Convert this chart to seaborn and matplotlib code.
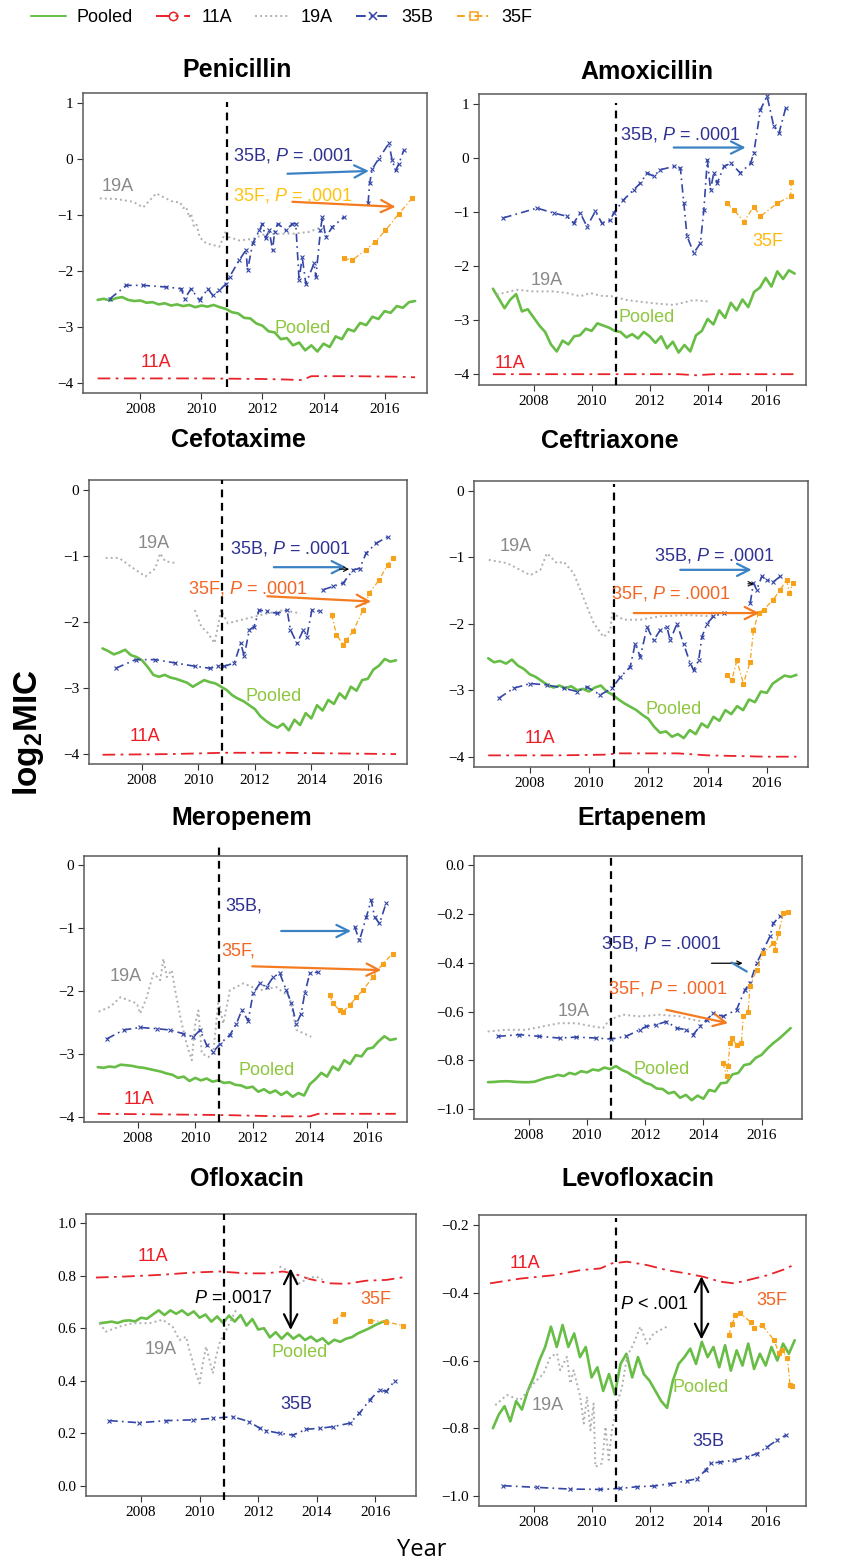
import numpy as np
import pandas as pd
import seaborn as sns
import matplotlib.pyplot as plt
from matplotlib.lines import Line2D

# ---------------------------------------------------------------- data
INTERVENTION_YEAR = 2010.83
SEROTYPES = ["Pooled", "11A", "19A", "35B", "35F"]
DRUGS = ["Penicillin", "Amoxicillin", "Cefotaxime", "Ceftriaxone",
         "Meropenem", "Ertapenem", "Ofloxacin", "Levofloxacin"]
YEAR_TICKS = [2008, 2010, 2012, 2014, 2016]

# pooled series share one time grid
POOLED_YEARS = np.round(np.arange(2006.6, 2017.01, 0.2), 1)

PEN_POOLED = [-2.52, -2.50, -2.53, -2.49, -2.47, -2.52, -2.54, -2.53, -2.57, -2.56, -2.60,
              -2.58, -2.62, -2.60, -2.63, -2.61, -2.65, -2.62, -2.64, -2.61, -2.65, -2.68,
              -2.74, -2.76, -2.84, -2.85, -2.94, -2.98, -3.08, -3.10, -3.22, -3.20, -3.33,
              -3.28, -3.42, -3.33, -3.44, -3.30, -3.36, -3.17, -3.22, -3.04, -3.08, -2.93,
              -2.97, -2.82, -2.86, -2.72, -2.75, -2.63, -2.66, -2.56, -2.54]
AMX_POOLED = [-2.42, -2.60, -2.78, -2.62, -2.52, -2.84, -2.80, -2.95, -3.10, -3.22, -3.45,
              -3.58, -3.38, -3.45, -3.30, -3.28, -3.16, -3.20, -3.06, -3.10, -3.14, -3.20,
              -3.22, -3.32, -3.26, -3.34, -3.22, -3.30, -3.42, -3.30, -3.52, -3.40, -3.60,
              -3.46, -3.58, -3.28, -3.20, -2.98, -3.08, -2.82, -2.96, -2.68, -2.82, -2.62,
              -2.76, -2.48, -2.40, -2.22, -2.38, -2.10, -2.24, -2.08, -2.14]
CTX_POOLED = [-2.40, -2.44, -2.49, -2.46, -2.42, -2.50, -2.53, -2.58, -2.68, -2.80, -2.83,
              -2.80, -2.84, -2.86, -2.89, -2.92, -2.98, -2.93, -2.88, -2.91, -2.93, -2.98,
              -3.03, -3.11, -3.16, -3.20, -3.26, -3.32, -3.43, -3.50, -3.56, -3.60, -3.54,
              -3.64, -3.48, -3.56, -3.38, -3.46, -3.26, -3.34, -3.18, -3.24, -3.08, -3.16,
              -2.98, -3.04, -2.88, -2.86, -2.72, -2.66, -2.56, -2.60, -2.58]
CRO_POOLED = [-2.52, -2.58, -2.56, -2.60, -2.54, -2.63, -2.68, -2.76, -2.80, -2.86, -2.92,
              -2.96, -2.93, -2.97, -2.94, -3.00, -2.98, -3.02, -2.96, -2.93, -3.02, -3.07,
              -3.14, -3.20, -3.25, -3.30, -3.37, -3.43, -3.55, -3.64, -3.62, -3.70, -3.66,
              -3.72, -3.60, -3.66, -3.50, -3.56, -3.40, -3.46, -3.30, -3.36, -3.24, -3.30,
              -3.14, -3.18, -3.02, -3.04, -2.90, -2.84, -2.78, -2.80, -2.77]
MEM_POOLED = [-3.21, -3.22, -3.20, -3.21, -3.17, -3.18, -3.19, -3.21, -3.22, -3.24, -3.26,
              -3.28, -3.31, -3.33, -3.38, -3.36, -3.43, -3.38, -3.42, -3.39, -3.44, -3.42,
              -3.46, -3.45, -3.49, -3.50, -3.54, -3.52, -3.60, -3.56, -3.62, -3.58, -3.65,
              -3.60, -3.68, -3.62, -3.66, -3.48, -3.40, -3.30, -3.36, -3.20, -3.26, -3.10,
              -3.16, -3.02, -3.04, -2.92, -2.90, -2.80, -2.72, -2.78, -2.76]
ETP_POOLED = [-0.890, -0.889, -0.887, -0.886, -0.887, -0.889, -0.890, -0.890, -0.888, -0.880,
              -0.872, -0.868, -0.860, -0.865, -0.852, -0.858, -0.845, -0.850, -0.838, -0.842,
              -0.830, -0.836, -0.824, -0.840, -0.850, -0.866, -0.876, -0.892, -0.900, -0.916,
              -0.918, -0.936, -0.930, -0.954, -0.942, -0.964, -0.945, -0.958, -0.922, -0.928,
              -0.894, -0.892, -0.858, -0.852, -0.820, -0.815, -0.790, -0.778, -0.752, -0.730,
              -0.712, -0.690, -0.668]
OFX_POOLED = [0.619, 0.622, 0.625, 0.620, 0.628, 0.630, 0.626, 0.640, 0.636, 0.652, 0.668,
              0.650, 0.668, 0.655, 0.668, 0.650, 0.664, 0.640, 0.652, 0.625, 0.645, 0.620,
              0.648, 0.625, 0.650, 0.610, 0.635, 0.595, 0.600, 0.565, 0.585, 0.560, 0.582,
              0.560, 0.575, 0.555, 0.568, 0.550, 0.562, 0.540, 0.556, 0.548, 0.560, 0.566,
              0.580, 0.590, 0.600, 0.612, 0.622, 0.630, None, None, None]
LVX_POOLED = [-0.800, -0.760, -0.735, -0.780, -0.720, -0.745, -0.690, -0.650, -0.600, -0.560,
              -0.500, -0.560, -0.495, -0.560, -0.520, -0.590, -0.560, -0.650, -0.620, -0.690,
              -0.640, -0.700, -0.610, -0.580, -0.650, -0.590, -0.640, -0.660, -0.690, -0.720,
              -0.740, -0.660, -0.610, -0.590, -0.565, -0.610, -0.545, -0.590, -0.560, -0.620,
              -0.555, -0.630, -0.570, -0.615, -0.550, -0.625, -0.580, -0.615, -0.560, -0.600,
              -0.550, -0.580, -0.540]

# serotype 11A
PEN_11A_YR = [2006.6, 2008.0, 2010.0, 2012.0, 2012.8, 2013.3, 2013.6, 2015.0, 2016.5, 2017.0]
PEN_11A = [-3.92, -3.92, -3.92, -3.93, -3.94, -3.95, -3.88, -3.88, -3.89, -3.90]
AMX_11A_YR = [2006.6, 2009.0, 2011.0, 2013.0, 2013.6, 2014.2, 2015.0, 2017.0]
AMX_11A = [-4.00, -4.00, -4.00, -4.00, -4.02, -4.00, -4.00, -4.00]
CTX_11A_YR = [2006.6, 2009.0, 2010.9, 2013.0, 2015.0, 2017.0]
CTX_11A = [-4.01, -4.00, -3.98, -3.98, -3.99, -4.00]
CRO_11A_YR = [2006.6, 2009.0, 2010.5, 2011.0, 2013.0, 2014.0, 2016.0, 2017.0]
CRO_11A = [-3.98, -3.98, -3.97, -3.95, -3.95, -3.98, -4.00, -4.00]
MEM_11A_YR = [2006.6, 2009.0, 2011.0, 2013.0, 2014.0, 2014.3, 2017.0]
MEM_11A = [-3.95, -3.96, -3.97, -3.99, -3.99, -3.95, -3.95]
OFX_11A_YR = [2006.46, 2007.49, 2008.63, 2009.77, 2010.68, 2011.59, 2012.27, 2012.84,
              2013.19, 2013.76, 2014.44, 2015.01, 2015.69, 2016.38, 2016.95]
OFX_11A = [0.793, 0.797, 0.803, 0.812, 0.816, 0.809, 0.809, 0.816, 0.809, 0.787, 0.771,
           0.769, 0.781, 0.784, 0.794]
LVX_11A_YR = [2006.5, 2007.54, 2008.69, 2009.61, 2010.3, 2010.7, 2011.22, 2011.91, 2012.6,
              2013.29, 2013.87, 2014.44, 2014.9, 2015.36, 2016.06, 2016.63, 2017.03]
LVX_11A = [-0.372, -0.358, -0.348, -0.333, -0.328, -0.313, -0.308, -0.318, -0.333, -0.343,
           -0.353, -0.367, -0.372, -0.363, -0.348, -0.331, -0.315]

# serotype 19A
PEN_19A_YR = [2006.67, 2007.2, 2007.76, 2008.09, 2008.52, 2008.8, 2009.07, 2009.3, 2009.4,
              2009.5, 2009.6, 2009.66, 2009.75, 2009.83, 2009.9, 2009.94, 2010.15, 2010.59,
              2010.81, 2010.9, 2011.24, 2011.68, 2012.11, 2012.98, 2013.5, 2013.96]
PEN_19A = [-0.71, -0.72, -0.77, -0.87, -0.62, -0.70, -0.77, -0.78, -0.88, -0.86, -1.05, -0.98,
           -1.20, -1.16, -1.30, -1.40, -1.51, -1.57, -1.28, -1.40, -1.46, -1.43, -1.34, -1.34,
           -1.31, -1.22]
AMX_19A_YR = [2006.73, 2007.42, 2008.0, 2008.69, 2009.15, 2009.61, 2009.96, 2010.3, 2010.7,
              2011.22, 2012.14, 2012.83, 2013.52, 2014.1]
AMX_19A = [-2.53, -2.44, -2.47, -2.47, -2.50, -2.56, -2.50, -2.55, -2.56, -2.63, -2.69, -2.72,
           -2.63, -2.66]
CTX_19A_YR = [2006.71, 2007.18, 2007.77, 2008.12, 2008.47, 2008.64, 2008.82, 2009.23, None,
              2009.87, 2010.1, 2010.34, 2010.57, 2010.8, 2011.04, 2011.5, 2011.97, 2012.44,
              2013.02, 2013.61]
CTX_19A = [-1.03, -1.03, -1.21, -1.31, -1.19, -0.96, -1.08, -1.11, None, -1.82, -2.07, -2.17,
           -2.32, -1.82, -2.02, -1.97, -1.92, -1.87, -1.82, -1.87]
CRO_19A_YR = [2006.62, 2007.24, 2008.02, 2008.36, 2008.58, 2008.92, 2009.15, 2009.48, 2009.71,
              2009.93, 2010.16, 2010.49, 2010.72, 2010.78, 2011.17, 2011.73, 2012.4, 2013.3,
              2014.2]
CRO_19A = [-1.04, -1.09, -1.27, -1.19, -0.94, -1.09, -1.07, -1.24, -1.49, -1.74, -1.99, -2.20,
           -2.10, -1.84, -1.94, -1.94, -1.89, -1.87, -1.89]
MEM_19A_YR = [2006.63, 2007.04, 2007.39, 2007.97, 2008.08, 2008.31, 2008.54, 2008.78, 2008.89,
              2009.01, 2009.18, 2009.3, 2009.53, 2009.7, 2009.88, 2010.0, 2010.11, 2010.23,
              2010.46, 2010.63, 2010.81, 2010.98, 2011.21, 2011.68, 2012.26, 2012.83, 2013.3,
              2013.53, 2014.05]
MEM_19A = [-2.33, -2.25, -2.10, -2.20, -2.36, -2.10, -1.72, -1.83, -1.49, -1.78, -1.67, -1.99,
           -2.52, -2.84, -3.10, -2.52, -2.31, -2.99, -3.05, -2.99, -2.15, -2.52, -1.99, -1.88,
           -1.99, -1.94, -2.10, -2.62, -2.73]
ETP_19A_YR = [2006.59, 2007.22, 2007.91, 2008.48, 2009.06, 2009.63, 2010.2, 2010.55, 2010.78,
              2011.24, 2011.81, 2012.5, 2013.19, 2013.65, 2013.99]
ETP_19A = [-0.682, -0.675, -0.675, -0.661, -0.648, -0.648, -0.661, -0.668, -0.634, -0.613,
           -0.620, -0.613, -0.620, -0.634, -0.641]
OFX_19A_YR = [2006.58, 2006.8, 2007.26, 2007.71, 2008.28, 2008.74, 2009.08, 2009.31, 2009.54,
              2009.65, 2009.88, 2010.0, 2010.11, 2010.22, 2010.45, 2010.56, 2010.68, 2010.91,
              2011.13, 2011.25, None, 2012.73, 2013.0, 2013.41, 2013.7, 2013.98, 2014.2]
OFX_19A = [0.619, 0.587, 0.606, 0.619, 0.619, 0.632, 0.606, 0.555, 0.568, 0.517, 0.428, 0.390,
           0.466, 0.530, 0.428, 0.492, 0.543, 0.593, 0.644, 0.670, None, 0.835, 0.820, 0.771,
           0.790, 0.797, 0.785]
LVX_19A_YR = [2006.68, 2007.08, 2007.54, 2008.0, 2008.35, 2008.58, 2008.81, 2008.92, 2009.15,
              2009.27, 2009.38, 2009.61, 2009.73, 2009.84, 2009.96, 2010.07, 2010.13, 2010.36,
              2010.48, 2010.59, 2010.7, 2010.88, 2011.05, 2011.22, 2011.45, 2011.68, 2011.91,
              2012.14, 2012.6]
LVX_19A = [-0.732, -0.702, -0.717, -0.668, -0.638, -0.589, -0.579, -0.629, -0.589, -0.668,
           -0.629, -0.707, -0.786, -0.707, -0.806, -0.727, -0.914, -0.904, -0.796, -0.894,
           -0.806, -0.727, -0.678, -0.589, -0.550, -0.500, -0.550, -0.520, -0.500]

# serotype 35B
PEN_35B_YR = [2007.0, 2007.54, 2008.09, 2008.85, 2009.34, 2009.45, 2009.66, 2009.94, 2010.21,
              2010.37, 2010.59, 2010.81, 2010.92, 2011.24, 2011.46, 2011.51, 2011.68, 2011.9,
              2012.0, 2012.1, 2012.22, 2012.33, 2012.4, 2012.5, 2012.77, 2012.98, 2013.09,
              2013.2, 2013.3, 2013.42, 2013.69, 2013.75, 2013.9, 2013.96, 2014.07, 2014.29,
              2014.67, None, 2015.46, 2015.51, 2015.6, 2015.81, 2016.14, 2016.25, 2016.36,
              2016.47, 2016.63]
PEN_35B = [-2.50, -2.26, -2.26, -2.29, -2.32, -2.50, -2.32, -2.53, -2.32, -2.44, -2.35, -2.23,
           -2.11, -1.81, -1.63, -1.99, -1.51, -1.28, -1.16, -1.42, -1.28, -1.63, -1.30, -1.16,
           -1.28, -1.16, -1.16, -2.17, -1.75, -2.23, -1.87, -2.11, -1.28, -1.04, -1.40, -1.22,
           -1.04, None, -0.80, -0.44, -0.18, 0.00, 0.27, -0.03, -0.21, -0.09, 0.15]
AMX_35B_YR = [2006.96, 2008.12, 2008.69, 2009.15, 2009.38, 2009.61, 2009.84, 2010.13, 2010.36,
              2010.65, 2010.76, 2011.1, 2011.45, 2011.68, 2011.91, 2012.14, 2012.37, 2012.83,
              2013.06, 2013.18, 2013.29, 2013.52, 2013.75, 2013.87, 2013.99, 2014.1, 2014.21,
              2014.33, 2014.56, 2014.79, 2015.13, 2015.48, 2015.59, 2015.82, 2016.05, 2016.28,
              2016.46, 2016.69]
AMX_35B = [-1.11, -0.93, -1.02, -1.08, -1.21, -1.02, -1.27, -0.99, -1.21, -1.15, -1.02, -0.78,
           -0.59, -0.47, -0.28, -0.34, -0.22, -0.16, -0.19, -0.84, -1.45, -1.76, -1.58, -0.96,
           -0.04, -0.59, -0.28, -0.47, -0.16, -0.10, -0.28, -0.10, 0.09, 0.89, 1.14, 0.58,
           0.46, 0.92]
CTX_35B_YR = [2007.07, 2007.77, 2008.47, 2009.17, 2009.87, 2010.4, 2010.69, 2010.92, 2011.27,
              2011.5, 2011.62, 2011.8, 2011.97, 2012.15, 2012.44, 2012.79, 2013.14, 2013.26,
              2013.49, 2013.72, 2013.84, 2014.02, 2014.31, None, 2014.43, 2014.78, 2015.13,
              2015.48, 2015.71, 2015.94, 2016.29, 2016.7]
CTX_35B = [-2.70, -2.57, -2.57, -2.62, -2.67, -2.70, -2.67, -2.67, -2.62, -2.32, -2.52, -2.12,
           -2.07, -1.82, -1.84, -1.87, -1.82, -2.12, -2.32, -2.12, -2.22, -1.82, -1.84, None,
           -1.51, -1.46, -1.41, -1.21, -1.19, -0.96, -0.81, -0.71]
CRO_35B_YR = [2006.96, 2007.46, 2008.02, 2008.58, 2009.15, 2009.6, 2009.93, 2010.38, 2010.78,
              2011.06, 2011.39, 2011.56, 2011.73, 2011.96, 2012.18, 2012.4, 2012.63, 2012.74,
              2012.97, 2013.19, 2013.42, 2013.53, 2013.7, 2013.81, 2013.98, 2014.2, 2014.54,
              None, 2015.44, 2015.55, 2015.66, 2015.83, 2016.0, 2016.22, 2016.45]
CRO_35B = [-3.12, -2.97, -2.90, -2.92, -2.97, -3.02, -2.95, -3.07, -2.97, -2.80, -2.65, -2.30,
           -2.50, -2.05, -2.25, -2.10, -2.05, -2.25, -2.00, -2.30, -2.60, -2.70, -2.55, -2.20,
           -2.00, -1.89, -1.84, None, -1.69, -1.39, -1.49, -1.29, -1.34, -1.37, -1.29]
MEM_35B_YR = [2006.92, 2007.5, 2008.08, 2008.66, 2009.12, 2009.59, 2009.94, 2010.17, 2010.4,
              2010.63, 2010.86, 2011.21, 2011.44, 2011.62, 2011.85, 2012.02, 2012.26, 2012.49,
              2012.72, 2012.95, 2013.18, 2013.36, 2013.53, 2013.7, 2013.82, 2014.0, 2014.29,
              None, 2015.56, 2015.73, 2015.97, 2016.14, 2016.26, 2016.43, 2016.66]
MEM_35B = [-2.76, -2.62, -2.58, -2.60, -2.62, -2.68, -2.73, -2.62, -2.86, -2.97, -2.84, -2.70,
           -2.52, -2.31, -2.47, -2.04, -1.88, -1.94, -1.78, -1.72, -1.99, -2.20, -2.52, -2.36,
           -2.04, -1.72, -1.70, None, -0.98, -1.20, -0.83, -0.56, -0.83, -0.93, -0.61]
ETP_35B_YR = [2006.93, 2007.68, 2008.37, 2009.06, 2009.63, 2010.32, 2010.84, 2011.35, 2011.81,
              2012.04, 2012.39, 2012.73, 2013.08, 2013.42, 2013.65, 2013.88, 2014.11, 2014.34,
              2014.68, 2015.14, 2015.43, 2015.6, 2015.83, 2016.06, 2016.29, 2016.4, 2016.63]
ETP_35B = [-0.702, -0.695, -0.702, -0.709, -0.705, -0.709, -0.713, -0.702, -0.675, -0.661,
           -0.654, -0.641, -0.668, -0.675, -0.695, -0.661, -0.634, -0.607, -0.620, -0.593,
           -0.511, -0.484, -0.402, -0.347, -0.292, -0.238, -0.210]
OFX_35B_YR = [2006.92, 2007.94, 2008.85, 2009.77, 2010.45, 2011.13, 2011.7, 2012.05, 2012.27,
              2012.73, 2013.19, 2013.64, 2014.1, 2014.55, 2015.12, 2015.46, 2015.81, 2016.15,
              2016.38, 2016.66]
OFX_35B = [0.248, 0.240, 0.248, 0.251, 0.257, 0.263, 0.244, 0.219, 0.210, 0.200, 0.193, 0.215,
           0.219, 0.225, 0.238, 0.276, 0.327, 0.365, 0.359, 0.400]
LVX_35B_YR = [2006.96, 2008.12, 2009.27, 2010.3, 2010.99, 2011.57, 2012.14, 2012.72, 2013.29,
              2013.64, 2013.93, 2014.1, 2014.44, 2014.9, 2015.36, 2015.71, 2016.06, 2016.4,
              2016.69]
LVX_35B = [-0.970, -0.975, -0.980, -0.981, -0.978, -0.973, -0.971, -0.964, -0.956, -0.949,
           -0.924, -0.904, -0.900, -0.895, -0.885, -0.875, -0.855, -0.835, -0.821]

# serotype 35F
PEN_35F_YR = [2014.67, 2014.94, 2015.38, 2015.7, 2016.03, 2016.47, 2016.9]
PEN_35F = [-1.78, -1.81, -1.63, -1.48, -1.28, -0.98, -0.71]
AMX_35F_YR = [2014.67, 2014.9, 2015.25, 2015.59, 2015.82, 2016.4, 2016.86, 2016.88]
AMX_35F = [-0.84, -0.96, -1.18, -0.90, -1.08, -0.84, -0.71, -0.44]
CTX_35F_YR = [2014.72, 2014.89, 2015.13, 2015.24, 2015.48, 2015.83, 2016.06, 2016.41, 2016.7,
              2016.88]
CTX_35F = [-1.89, -2.19, -2.35, -2.27, -2.14, -1.82, -1.56, -1.36, -1.13, -1.03]
CRO_35F_YR = [2014.65, 2014.82, 2014.99, 2015.21, 2015.44, 2015.55, 2015.72, 2015.89, 2016.22,
              2016.45, 2016.67, 2016.76, 2016.88]
CRO_35F = [-2.77, -2.85, -2.55, -2.90, -2.57, -2.10, -1.84, -1.79, -1.64, -1.49, -1.34, -1.54,
           -1.39]
MEM_35F_YR = [2014.69, 2014.81, 2015.04, 2015.15, 2015.39, 2015.62, 2015.85, 2016.2, 2016.54,
              2016.89]
MEM_35F = [-2.07, -2.20, -2.31, -2.33, -2.23, -2.10, -1.99, -1.78, -1.57, -1.41]
ETP_35F_YR = [2014.68, 2014.8, 2014.85, 2014.91, 2014.97, 2015.14, 2015.31, 2015.37, 2015.54,
              2015.6, 2015.83, 2016.06, 2016.4, 2016.46, 2016.58, 2016.75, 2016.92]
ETP_35F = [-0.811, -0.866, -0.825, -0.730, -0.709, -0.736, -0.730, -0.620, -0.600, -0.497,
           -0.429, -0.361, -0.320, -0.347, -0.279, -0.197, -0.190]
OFX_35F_YR = [2014.61, 2014.89, None, 2015.81, 2016.38, 2016.95]
OFX_35F = [0.629, 0.654, None, 0.629, 0.625, 0.609]
LVX_35F_YR = [2014.73, 2014.85, 2014.96, 2015.13, 2015.48, 2015.59, 2015.88, 2016.29, 2016.46,
              2016.57, 2016.75, 2016.84, 2016.92]
LVX_35F = [-0.525, -0.491, -0.466, -0.461, -0.486, -0.505, -0.496, -0.540, -0.579, -0.569,
           -0.594, -0.673, -0.676]

Y_TICKS_INT = [1, 0, -1, -2, -3, -4]
Y_TICKS_ETP = [0.0, -0.2, -0.4, -0.6, -0.8, -1.0]
Y_TICKS_OFX = [0.0, 0.2, 0.4, 0.6, 0.8, 1.0]
Y_TICKS_LVX = [-0.2, -0.4, -0.6, -0.8, -1.0]

# ---------------------------------------------------------------- styles / layout
W, H = 842, 1565
GREEN, RED, GREY, BLUE, ORANGE = "#67BD45", "#E8232A", "#B0B0B0", "#3446A6", "#F7A21B"
LBL_GREY, LBL_GREEN, LBL_RED, LBL_BLUE = "#8A8A8A", "#8DC63F", "#EE1C25", "#2E3192"
LBL_YELLOW, LBL_ORANGE = "#FFC20E", "#F26522"
ARROW_BLUE, ARROW_ORANGE = "#3B82C4", "#F47B20"

SERIES_STYLE = {
    "Pooled": dict(color=GREEN, lw=1.9, ls="-", marker=None, ms=0),
    "11A": dict(color=RED, lw=1.3, ls=(0, (7, 3, 1.5, 3)), marker=None, ms=0),
    "19A": dict(color=GREY, lw=1.4, ls=(0, (1, 1.6)), marker=None, ms=0),
    "35B": dict(color=BLUE, lw=1.2, ls=(0, (5, 2.5, 1, 2.5)), marker="x", ms=3),
    "35F": dict(color=ORANGE, lw=0.9, ls=(0, (4, 2, 1, 2)), marker="s", ms=2.5),
}

PANEL_SERIES = {
    "Penicillin": [(POOLED_YEARS, PEN_POOLED), (PEN_11A_YR, PEN_11A), (PEN_19A_YR, PEN_19A),
                   (PEN_35B_YR, PEN_35B), (PEN_35F_YR, PEN_35F)],
    "Amoxicillin": [(POOLED_YEARS, AMX_POOLED), (AMX_11A_YR, AMX_11A), (AMX_19A_YR, AMX_19A),
                    (AMX_35B_YR, AMX_35B), (AMX_35F_YR, AMX_35F)],
    "Cefotaxime": [(POOLED_YEARS, CTX_POOLED), (CTX_11A_YR, CTX_11A), (CTX_19A_YR, CTX_19A),
                   (CTX_35B_YR, CTX_35B), (CTX_35F_YR, CTX_35F)],
    "Ceftriaxone": [(POOLED_YEARS, CRO_POOLED), (CRO_11A_YR, CRO_11A), (CRO_19A_YR, CRO_19A),
                    (CRO_35B_YR, CRO_35B), (CRO_35F_YR, CRO_35F)],
    "Meropenem": [(POOLED_YEARS, MEM_POOLED), (MEM_11A_YR, MEM_11A), (MEM_19A_YR, MEM_19A),
                  (MEM_35B_YR, MEM_35B), (MEM_35F_YR, MEM_35F)],
    "Ertapenem": [(POOLED_YEARS, ETP_POOLED), (None, None), (ETP_19A_YR, ETP_19A),
                  (ETP_35B_YR, ETP_35B), (ETP_35F_YR, ETP_35F)],
    "Ofloxacin": [(POOLED_YEARS, OFX_POOLED), (OFX_11A_YR, OFX_11A), (OFX_19A_YR, OFX_19A),
                  (OFX_35B_YR, OFX_35B), (OFX_35F_YR, OFX_35F)],
    "Levofloxacin": [(POOLED_YEARS, LVX_POOLED), (LVX_11A_YR, LVX_11A), (LVX_19A_YR, LVX_19A),
                     (LVX_35B_YR, LVX_35B), (LVX_35F_YR, LVX_35F)],
}

# axes box in pixels: left, top, right, bottom
AXES_PX = {
    "Penicillin": (83, 93, 427, 393), "Amoxicillin": (479, 94, 806, 385),
    "Cefotaxime": (89, 480, 407, 764), "Ceftriaxone": (474, 481, 808, 767),
    "Meropenem": (84, 856, 407, 1122), "Ertapenem": (474, 856, 802, 1119),
    "Ofloxacin": (86, 1214, 416, 1496), "Levofloxacin": (479, 1215, 806, 1506),
}
TITLE_PX = {
    "Penicillin": (237, 70), "Amoxicillin": (647, 72), "Cefotaxime": (238, 440),
    "Ceftriaxone": (610, 441), "Meropenem": (242, 818), "Ertapenem": (642, 818),
    "Ofloxacin": (247, 1179), "Levofloxacin": (638, 1179),
}
YLIM = {
    "Penicillin": (-4.18, 1.17), "Amoxicillin": (-4.2, 1.18), "Cefotaxime": (-4.15, 0.15),
    "Ceftriaxone": (-4.155, 0.146), "Meropenem": (-4.08, 0.14), "Ertapenem": (-1.041, 0.038),
    "Ofloxacin": (-0.039, 1.035), "Levofloxacin": (-1.03, -0.17),
}
YTICKS = {
    "Penicillin": (Y_TICKS_INT, "{:.0f}"), "Amoxicillin": (Y_TICKS_INT, "{:.0f}"),
    "Cefotaxime": (Y_TICKS_INT[1:], "{:.0f}"), "Ceftriaxone": (Y_TICKS_INT[1:], "{:.0f}"),
    "Meropenem": (Y_TICKS_INT[1:], "{:.0f}"), "Ertapenem": (Y_TICKS_ETP, "{:.1f}"),
    "Ofloxacin": (Y_TICKS_OFX, "{:.1f}"), "Levofloxacin": (Y_TICKS_LVX, "{:.1f}"),
}
VLINE_SPAN = {
    "Penicillin": (0.02, 0.97), "Amoxicillin": (0.0, 0.97), "Cefotaxime": (0.0, 1.0),
    "Ceftriaxone": (0.0, 0.99), "Meropenem": (0.0, 1.035), "Ertapenem": (0.0, 1.0),
    "Ofloxacin": (-0.015, 1.0), "Levofloxacin": (0.015, 0.99),
}
P1 = "$P$ = .0001"
LABELS = {
    "Penicillin": [("19A", 2007.27, -0.50, LBL_GREY, "center"),
                   ("Pooled", 2013.31, -3.03, LBL_GREEN, "center"),
                   ("11A", 2008.52, -3.63, LBL_RED, "center"),
                   ("35B, " + P1, 2011.02, 0.06, LBL_BLUE, "left"),
                   ("35F, " + P1, 2011.02, -0.65, LBL_YELLOW, "left")],
    "Amoxicillin": [("35B, " + P1, 2010.99, 0.43, LBL_BLUE, "left"),
                    ("35F", 2016.06, -1.55, "#FDB913", "center"),
                    ("19A", 2008.46, -2.26, LBL_GREY, "center"),
                    ("Pooled", 2011.91, -2.96, LBL_GREEN, "center"),
                    ("11A", 2007.19, -3.80, LBL_RED, "center")],
    "Cefotaxime": [("35B, " + P1, 2011.1, -0.88, LBL_BLUE, "left"),
                   ("35F, " + P1, 2009.64, -1.49, LBL_ORANGE, "left"),
                   ("19A", 2008.41, -0.81, LBL_GREY, "center"),
                   ("Pooled", 2012.67, -3.13, LBL_GREEN, "center"),
                   ("11A", 2008.12, -3.73, LBL_RED, "center")],
    "Ceftriaxone": [("35B, " + P1, 2012.21, -0.98, LBL_BLUE, "left"),
                    ("35F, " + P1, 2010.74, -1.54, LBL_ORANGE, "left"),
                    ("19A", 2007.52, -0.84, LBL_GREY, "center"),
                    ("Pooled", 2012.85, -3.29, LBL_GREEN, "center"),
                    ("11A", 2008.36, -3.72, LBL_RED, "center")],
    "Meropenem": [("35F,", 2010.92, -1.37, LBL_ORANGE, "left"),
                  ("19A", 2007.56, -1.77, LBL_GREY, "center"),
                  ("Pooled", 2012.49, -3.26, LBL_GREEN, "center"),
                  ("11A", 2008.02, -3.72, LBL_RED, "center")],
    "Ertapenem": [("35B, " + P1, 2010.49, -0.320, LBL_BLUE, "left"),
                  ("35F, " + P1, 2010.74, -0.507, LBL_ORANGE, "left"),
                  ("19A", 2009.54, -0.600, LBL_GREY, "center"),
                  ("Pooled", 2012.56, -0.839, LBL_GREEN, "center")],
    "Ofloxacin": [("$P$ = .0017", 2009.82, 0.714, "black", "left"),
                  ("11A", 2008.42, 0.873, LBL_RED, "center"),
                  ("35F", 2016.03, 0.708, LBL_ORANGE, "center"),
                  ("19A", 2008.66, 0.520, LBL_GREY, "center"),
                  ("Pooled", 2013.41, 0.507, LBL_GREEN, "center"),
                  ("35B", 2013.3, 0.310, LBL_BLUE, "center")],
    "Levofloxacin": [("$P$ < .001", 2010.99, -0.434, "black", "left"),
                     ("11A", 2007.71, -0.313, LBL_RED, "center"),
                     ("35F", 2016.23, -0.422, LBL_ORANGE, "center"),
                     ("19A", 2008.49, -0.732, LBL_GREY, "center"),
                     ("Pooled", 2013.75, -0.680, LBL_GREEN, "center"),
                     ("35B", 2014.04, -0.840, LBL_BLUE, "center")],
}
# (start, end, colour, style, width, head size)
ARROWS = {
    "Penicillin": [((2012.82, -0.27), (2015.49, -0.22), ARROW_BLUE, "->", 1.6, 22),
                   ((2012.98, -0.77), (2016.36, -0.86), ARROW_ORANGE, "->", 1.6, 22)],
    "Amoxicillin": [((2012.83, 0.19), (2015.31, 0.19), ARROW_BLUE, "->", 1.6, 22)],
    "Cefotaxime": [((2012.67, -1.17), (2015.24, -1.17), ARROW_BLUE, "->", 1.6, 22),
                   ((2015.0, -1.2), (2015.34, -1.2), "black", "->", 0.8, 8),
                   ((2012.44, -1.61), (2016.12, -1.69), ARROW_ORANGE, "->", 1.6, 22)],
    "Ceftriaxone": [((2013.08, -1.19), (2015.49, -1.19), ARROW_BLUE, "->", 1.6, 22),
                    ((2015.36, -1.40), (2015.56, -1.40), "black", "->", 0.8, 8),
                    ((2011.51, -1.84), (2015.75, -1.84), ARROW_ORANGE, "->", 1.6, 22)],
    "Meropenem": [((2013.0, -1.05), (2015.44, -1.05), ARROW_BLUE, "->", 1.6, 22),
                  ((2011.99, -1.61), (2016.49, -1.67), ARROW_ORANGE, "->", 1.6, 22)],
    "Ertapenem": [((2014.28, -0.402), (2015.35, -0.402), "black", "->", 0.9, 8),
                  ((2014.97, -0.399), (2015.49, -0.436), ARROW_BLUE, "-", 1.6, 10),
                  ((2012.73, -0.593), (2014.85, -0.648), ARROW_ORANGE, "->", 1.6, 22)],
    "Ofloxacin": [((2013.11, 0.828), (2013.11, 0.593), "black", "<->", 1.6, 24)],
    "Levofloxacin": [((2013.79, -0.351), (2013.79, -0.538), "black", "<->", 1.6, 24)],
}

sns.set_theme(style="ticks")
plt.rcParams["font.family"] = ["Liberation Sans", "DejaVu Sans"]
plt.rcParams["mathtext.fontset"] = "custom"
plt.rcParams["mathtext.rm"] = "Liberation Sans"
plt.rcParams["mathtext.it"] = "Liberation Sans:italic"
plt.rcParams["mathtext.bf"] = "Liberation Sans:bold"
plt.rcParams["text.color"] = "black"
plt.rcParams["xtick.labelcolor"] = "black"
plt.rcParams["ytick.labelcolor"] = "black"


def series_frame(years, values):
    rows = []
    seg = 0
    for yr, v in zip(years, values):
        if v is None:
            seg += 1
            continue
        rows.append((yr, v, seg))
    return pd.DataFrame(rows, columns=["year", "value", "seg"])


def draw_series(ax, name, years, values):
    if years is None:
        return
    st = SERIES_STYLE[name]
    df = series_frame(years, values)
    sns.lineplot(data=df, x="year", y="value", units="seg", estimator=None, sort=False,
                 ax=ax, color=st["color"], linewidth=st["lw"], linestyle=st["ls"],
                 marker=st["marker"], markersize=st["ms"], markeredgecolor=st["color"],
                 markerfacecolor=st["color"], markeredgewidth=0.8, legend=False)


fig = plt.figure(figsize=(W / 100, H / 100), dpi=100)

for drug in DRUGS:
    x0, y0, x1, y1 = AXES_PX[drug]
    ax = fig.add_axes([x0 / W, 1 - y1 / H, (x1 - x0) / W, (y1 - y0) / H])
    for name, (yrs, vals) in zip(SEROTYPES, PANEL_SERIES[drug]):
        draw_series(ax, name, yrs, vals)

    lo, hi = VLINE_SPAN[drug]
    ax.axvline(INTERVENTION_YEAR, ymin=lo, ymax=hi, color="black", lw=1.6,
               ls=(0, (3.5, 2.5)), clip_on=False, zorder=5)

    for txt, xx, yy, col, ha in LABELS[drug]:
        ax.text(xx, yy, txt, color=col, ha=ha, va="center", fontsize=13, zorder=6)
    if drug == "Meropenem":
        ax.text(2011.06, -0.66, "35B,", color=LBL_BLUE, ha="left", va="center",
                fontsize=13, zorder=6,
                bbox=dict(facecolor="white", edgecolor="none", pad=1.5))
    for start, end, col, style, lw, ms in ARROWS[drug]:
        ax.annotate("", xy=end, xytext=start, zorder=7,
                    arrowprops=dict(arrowstyle=style, color=col, lw=lw,
                                    mutation_scale=ms, shrinkA=0, shrinkB=0))

    ax.set_xlim(2006.12, 2017.39)
    ax.set_ylim(*YLIM[drug])
    ax.set_xticks(YEAR_TICKS, labels=[str(t) for t in YEAR_TICKS],
                  fontfamily="Liberation Serif", fontsize=11)
    ticks, fmt = YTICKS[drug]
    ax.set_yticks(ticks, labels=[fmt.format(t).replace("-", "\u2212") for t in ticks],
                  fontfamily="Liberation Serif", fontsize=11)
    ax.tick_params(direction="out", length=4, width=0.8, color="#333333", pad=3)
    ax.set_xlabel("")
    ax.set_ylabel("")
    for sp in ax.spines.values():
        sp.set_color("#5a5a5a")
        sp.set_linewidth(1.1)

    tx, ty = TITLE_PX[drug]
    fig.text(tx / W, 1 - ty / H, drug, ha="center", va="center", fontsize=18,
             fontweight="bold", color="black")

# legend across the top
handles = []
for name in SEROTYPES:
    st = SERIES_STYLE[name]
    mk = {"11A": "o", "35B": "x", "35F": "s"}.get(name, None)
    handles.append(Line2D([], [], color=st["color"], lw=1.4, ls=st["ls"], marker=mk,
                          markersize=6, markerfacecolor="none",
                          markeredgecolor=st["color"], markeredgewidth=1.1))
fig.legend(handles, SEROTYPES, loc="center", bbox_to_anchor=(282 / W, 1 - 18 / H),
           ncol=5, frameon=False, fontsize=13, handlelength=1.9, handletextpad=0.6,
           columnspacing=1.3, labelcolor="black")

fig.text(28 / W, 1 - 733 / H, r"log$_\mathbf{2}$MIC", rotation=90, ha="center",
         va="center", fontsize=24, fontweight="bold", color="black")
fig.text(422 / W, 1 - 1550 / H, "Year", ha="center", va="center", fontsize=17,
         family=["Open Sans", "DejaVu Sans"], color="black")

fig.savefig("out.png", dpi=100)
